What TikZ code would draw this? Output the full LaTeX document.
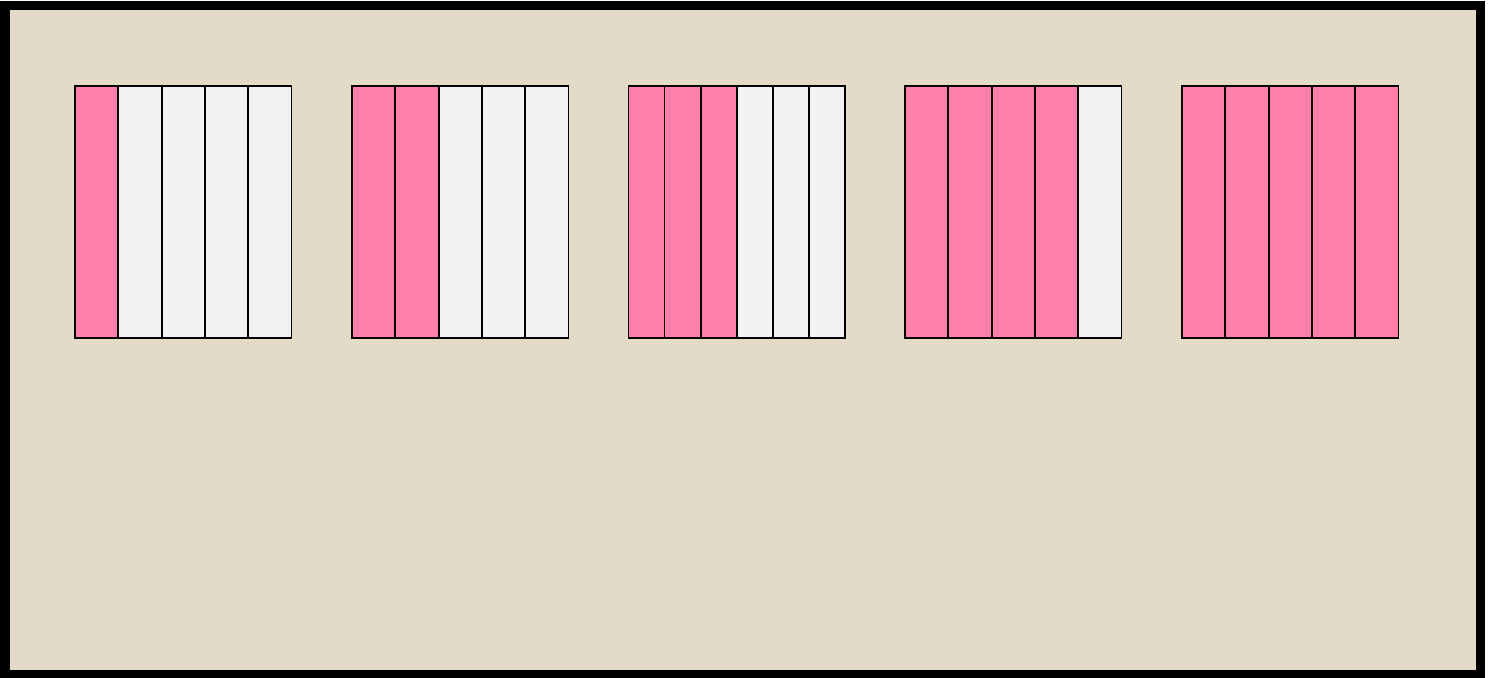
\documentclass[tikz,border=0pt]{standalone}
\usepackage{tikz}

\definecolor{sand}{HTML}{E3DBC8}
\definecolor{barpink}{HTML}{FF7FAA}
\definecolor{bargrey}{HTML}{F2F2F2}

\begin{document}
\begin{tikzpicture}[
  x={(0.5pt,0pt)}, y={(0pt,-0.5pt)},
  frame/.style={draw=black, fill=sand, line width=4.5pt},
  shaded/.style={fill=barpink, draw=black, line width=0.9pt},
  blank/.style={fill=bargrey, draw=black, line width=0.9pt},
]
\useasboundingbox (0,0) rectangle (1493,677);

% ------------------------------------------------------------------
% background panel
% ------------------------------------------------------------------
\draw[frame] (5,5.5) rectangle (1480,674.5);

% ------------------------------------------------------------------
% fraction bars: {left edge / number of parts / shaded parts}
% ------------------------------------------------------------------
\def\barw{216.5}
\foreach \xa/\parts/\filled [count=\g] in {75/5/1, 352/5/2, 628.5/6/3, 905/5/4, 1182/5/5} {
  \foreach \k in {1,...,\parts} {
    \pgfmathsetmacro{\xl}{\xa+(\k-1)*\barw/\parts}
    \pgfmathsetmacro{\xr}{\xa+\k*\barw/\parts}
    \ifnum\k>\filled
      \draw[blank] (\xl,86) rectangle (\xr,338);
    \else
      \draw[shaded] (\xl,86) rectangle (\xr,338);
    \fi
  }
}
\end{tikzpicture}
\end{document}
